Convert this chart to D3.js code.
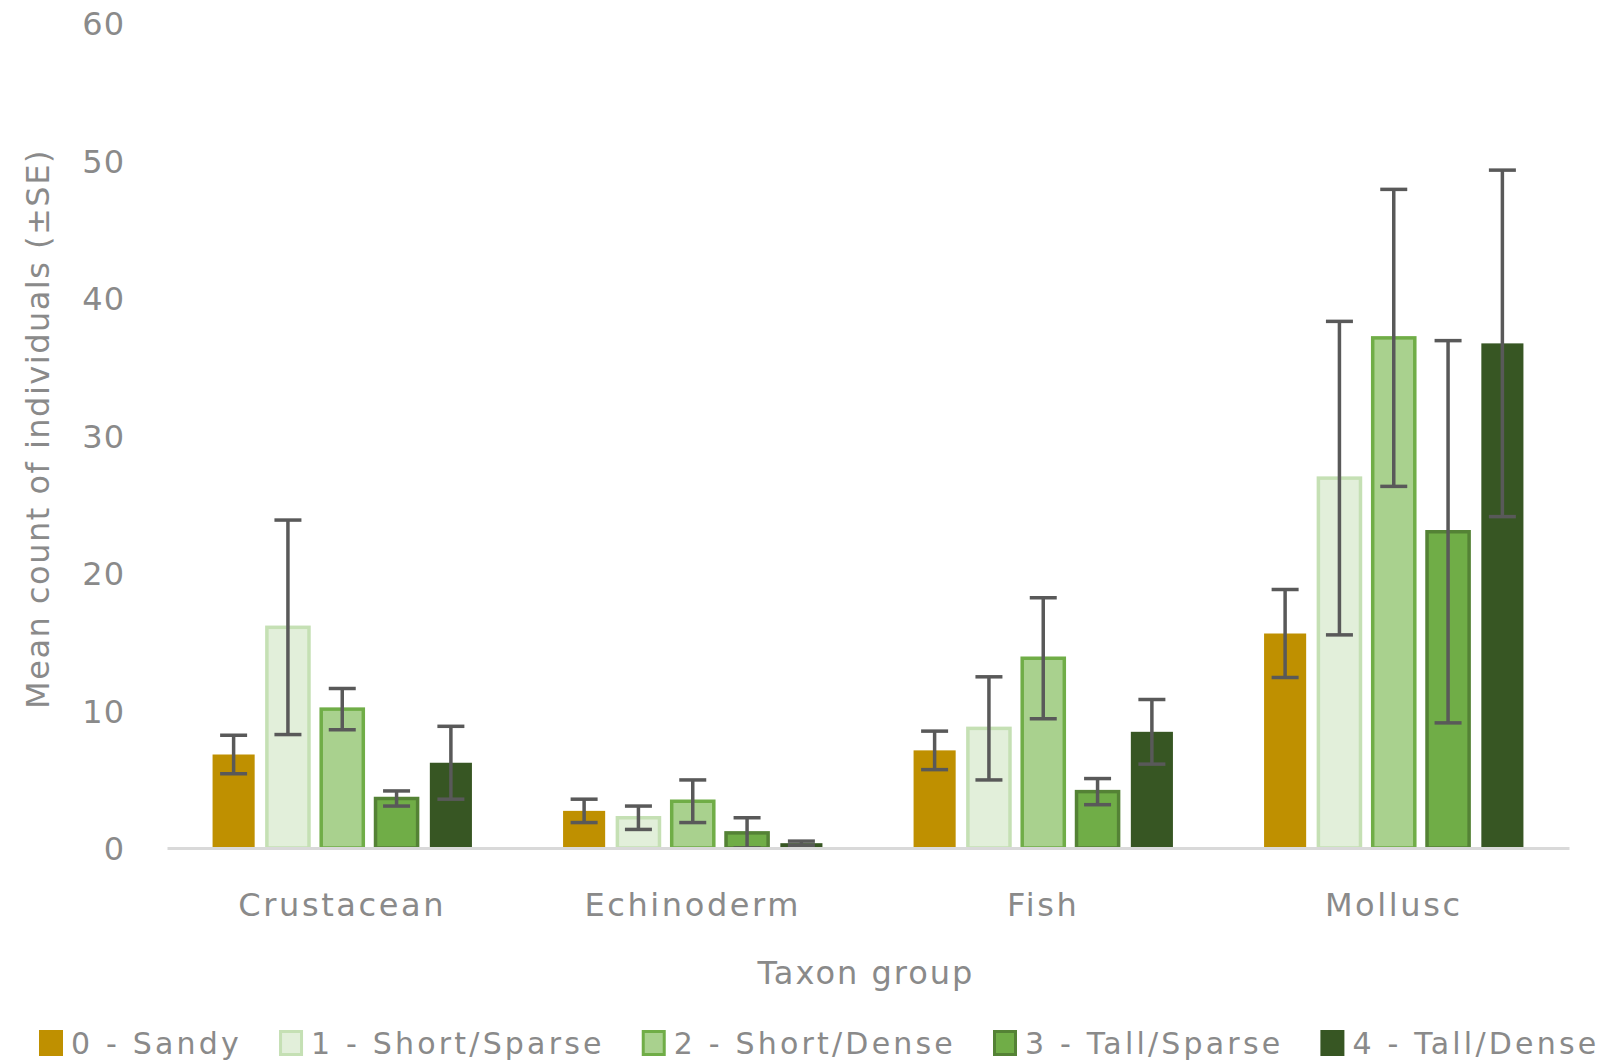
<!DOCTYPE html>
<html>
<head>
<meta charset="utf-8">
<script src="https://cdn.jsdelivr.net/npm/d3@7"></script>
<style>
  html, body { margin: 0; padding: 0; background: #ffffff; }
  svg text { font-family: "DejaVu Sans", "Noto Sans", sans-serif; fill: #8a8a8a; }
</style>
</head>
<body>
<svg id="chart" width="1608" height="1064"></svg>
<script>
// Taxon groups along the x axis
const categories = ["Crustacean", "Echinoderm", "Fish", "Mollusc"];

// Habitat classes (one bar per class in each taxon group)
const habitats = ["0 - Sandy", "1 - Short/Sparse", "2 - Short/Dense", "3 - Tall/Sparse", "4 - Tall/Dense"];

// Mean count of individuals, per habitat, in category order
const sandyMean        = [6.8, 2.7, 7.1, 15.6];
const shortSparseMean  = [16.05, 2.2, 8.7, 26.9];
const shortDenseMean   = [10.1, 3.4, 13.8, 37.1];
const tallSparseMean   = [3.6, 1.1, 4.1, 23.0];
const tallDenseMean    = [6.2, 0.35, 8.45, 36.7];

// Standard error of each mean
const sandySE        = [1.4, 0.85, 1.4, 3.2];
const shortSparseSE  = [7.8, 0.85, 3.75, 11.4];
const shortDenseSE   = [1.5, 1.55, 4.4, 10.8];
const tallSparseSE   = [0.55, 1.1, 0.95, 13.9];
const tallDenseSE    = [2.65, 0.15, 2.35, 12.6];

// Y axis ticks
const yTicks = [0, 10, 20, 30, 40, 50, 60];

const means = [sandyMean, shortSparseMean, shortDenseMean, tallSparseMean, tallDenseMean];
const ses = [sandySE, shortSparseSE, shortDenseSE, tallSparseSE, tallDenseSE];

const fills   = ["#BF9000", "#E2EFDA", "#A9D18E", "#70AD47", "#375623"];
const strokes = [null, "#C5E0B4", "#70AD47", "#548235", null];

const FONT = 32;

const rows = [];
categories.forEach((c, ci) => {
  habitats.forEach((h, hi) => {
    rows.push({ category: c, habitat: h, hi, mean: means[hi][ci], se: ses[hi][ci] });
  });
});

const svg = d3.select("#chart");

const x0 = d3.scaleBand()
  .domain(categories)
  .range([167, 1569])
  .paddingInner(0.26)
  .paddingOuter(0.13);

const x1 = d3.scaleBand()
  .domain(habitats)
  .range([0, x0.bandwidth()])
  .paddingInner(0.225);

const y = d3.scaleLinear().domain([0, 60]).range([848, 23]);

// Y tick labels (no gridlines, no axis line)
const yAxis = d3.axisLeft(y).tickValues(yTicks).tickSize(0).tickPadding(0);
const yG = svg.append("g").attr("transform", "translate(125,0)").call(yAxis);
yG.select(".domain").remove();
yG.selectAll("text")
  .attr("font-size", FONT)
  .attr("font-family", null)
  .attr("fill", null)
  .attr("letter-spacing", 1)
  .attr("dy", "0.36em");

// Bars
const bars = svg.append("g");
bars.selectAll("rect")
  .data(rows)
  .join("rect")
  .attr("x", d => x0(d.category) + x1(d.habitat))
  .attr("y", d => y(d.mean))
  .attr("width", x1.bandwidth())
  .attr("height", d => y(0) - y(d.mean))
  .attr("fill", d => fills[d.hi])
  .attr("stroke", d => strokes[d.hi] || "none")
  .attr("stroke-width", 3.5);

// Category axis line and labels
const xAxis = d3.axisBottom(x0).tickSize(0).tickPadding(0);
const xG = svg.append("g").attr("transform", `translate(0,${y(0)})`).call(xAxis);
xG.select(".domain").attr("stroke", "#D9D9D9").attr("stroke-width", 3);
xG.selectAll("text")
  .attr("font-size", FONT)
  .attr("fill", null)
  .attr("font-family", null)
  .attr("letter-spacing", 2.6)
  .attr("y", 56)
  .attr("dy", "0.36em");

// Error bars
const eb = svg.append("g").attr("stroke", "#595959").attr("stroke-width", 3.5).attr("fill", "none");
const cap = 13.5;
rows.forEach(d => {
  const cx = x0(d.category) + x1(d.habitat) + x1.bandwidth() / 2;
  const lo = Math.max(0, d.mean - d.se), hi = d.mean + d.se;
  eb.append("line").attr("x1", cx).attr("x2", cx).attr("y1", y(lo)).attr("y2", y(hi));
  eb.append("line").attr("x1", cx - cap).attr("x2", cx + cap).attr("y1", y(hi)).attr("y2", y(hi));
  eb.append("line").attr("x1", cx - cap).attr("x2", cx + cap).attr("y1", y(lo)).attr("y2", y(lo));
});
xG.raise();

// Axis titles
svg.append("text")
  .attr("x", 866).attr("y", 972).attr("dy", "0.36em")
  .attr("text-anchor", "middle")
  .attr("font-size", FONT).attr("letter-spacing", 2)
  .text("Taxon group");

svg.append("text")
  .attr("transform", "translate(37,429) rotate(-90)")
  .attr("dy", "0.36em")
  .attr("text-anchor", "middle")
  .attr("font-size", FONT).attr("letter-spacing", 1.5)
  .text("Mean count of individuals (±SE)");

// Legend
const legend = svg.append("g").attr("transform", "translate(0,1043)");
let lx = 39;
habitats.forEach((h, i) => {
  const g = legend.append("g").attr("transform", `translate(${lx},0)`);
  const sw = 3;
  if (strokes[i]) {
    g.append("rect").attr("x", sw / 2).attr("y", -13 + sw / 2).attr("width", 24 - sw).attr("height", 26 - sw)
      .attr("fill", fills[i]).attr("stroke", strokes[i]).attr("stroke-width", sw);
  } else {
    g.append("rect").attr("x", 0).attr("y", -13).attr("width", 24).attr("height", 26).attr("fill", fills[i]);
  }
  const t = g.append("text").attr("x", 32).attr("dy", "0.36em")
    .attr("font-size", 30).attr("letter-spacing", 3.2).text(h);
  lx += 32 + t.node().getComputedTextLength() + 37;
});
</script>
</body>
</html>
